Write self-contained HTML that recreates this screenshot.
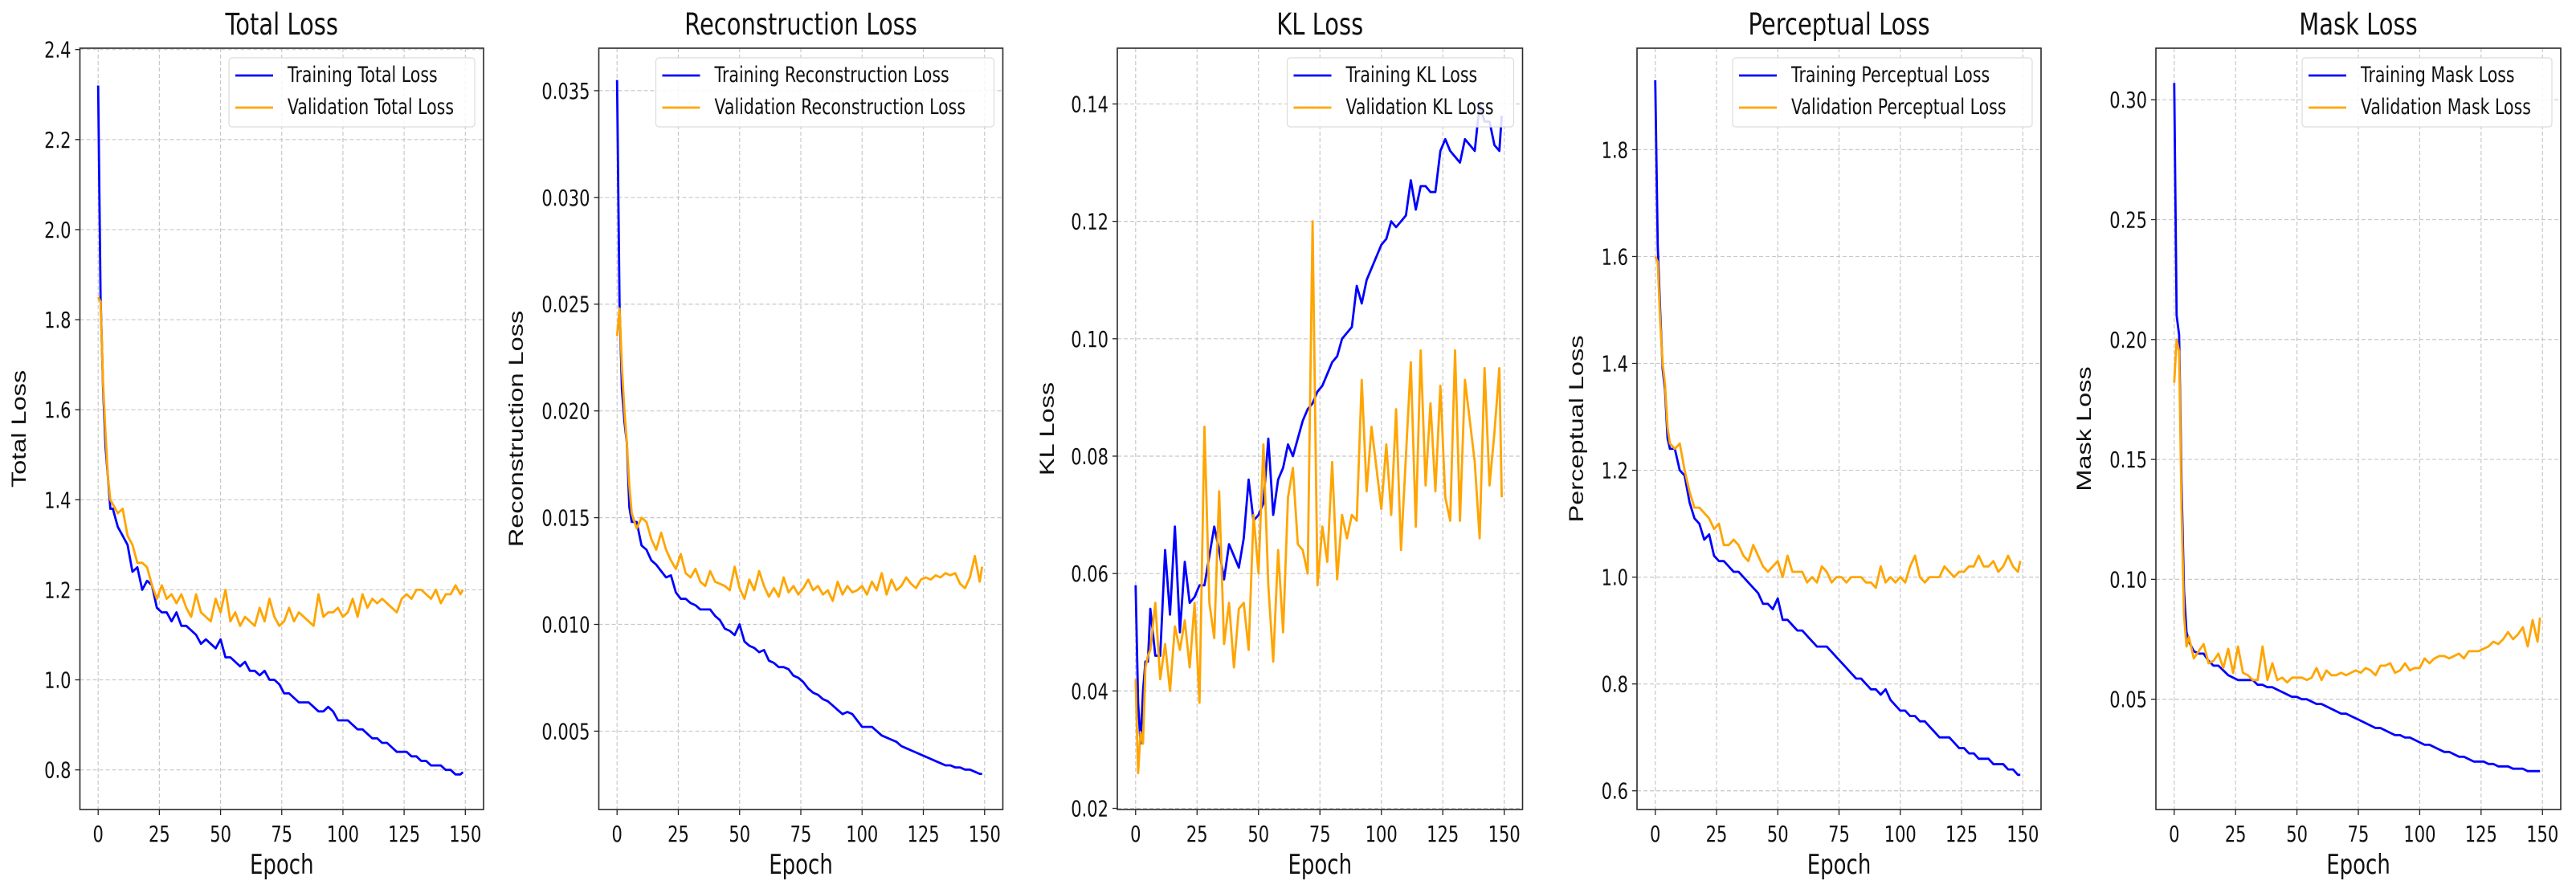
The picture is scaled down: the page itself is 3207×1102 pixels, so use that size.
<!DOCTYPE html>
<html><head><meta charset="utf-8"><style>
html,body{margin:0;padding:0;background:#fff;}
svg{display:block;}
text{font-family:"DejaVu Sans","Liberation Sans",sans-serif;fill:#111;}
</style></head><body>
<svg id="fig" width="3207" height="1102" viewBox="0 0 3207 1102" xmlns="http://www.w3.org/2000/svg"></svg>
<script>
const epochs=[0,1,2,3,4,5,6,8,10,12,14,16,18,20,22,24,26,28,30,32,34,36,38,40,42,44,46,48,50,52,54,56,58,60,62,64,66,68,70,72,74,76,78,80,82,84,86,88,90,92,94,96,98,100,102,104,106,108,110,112,114,116,118,120,122,124,126,128,130,132,134,136,138,140,142,144,146,148,149];
const xTicks=[0,25,50,75,100,125,150];

const totalTrain=[2.32,1.85,1.65,1.52,1.45,1.38,1.38,1.34,1.32,1.30,1.24,1.25,1.20,1.22,1.21,1.16,1.15,1.15,1.13,1.15,1.12,1.12,1.11,1.10,1.08,1.09,1.08,1.07,1.09,1.05,1.05,1.04,1.03,1.04,1.02,1.02,1.01,1.02,1.00,1.00,0.99,0.97,0.97,0.96,0.95,0.95,0.95,0.94,0.93,0.93,0.94,0.93,0.91,0.91,0.91,0.90,0.89,0.89,0.88,0.87,0.87,0.86,0.86,0.85,0.84,0.84,0.84,0.83,0.83,0.82,0.82,0.81,0.81,0.81,0.80,0.80,0.79,0.79,0.795];
const totalVal=[1.85,1.84,1.66,1.55,1.45,1.40,1.39,1.37,1.38,1.32,1.30,1.26,1.26,1.25,1.21,1.18,1.21,1.18,1.19,1.17,1.19,1.16,1.14,1.19,1.15,1.14,1.13,1.18,1.15,1.20,1.13,1.15,1.12,1.14,1.13,1.12,1.16,1.13,1.18,1.14,1.12,1.13,1.16,1.13,1.15,1.14,1.13,1.12,1.19,1.14,1.15,1.15,1.16,1.14,1.15,1.18,1.14,1.19,1.16,1.18,1.17,1.18,1.17,1.16,1.15,1.18,1.19,1.18,1.20,1.20,1.19,1.18,1.20,1.17,1.19,1.19,1.21,1.19,1.20];
const totalTicks=[0.8,1.0,1.2,1.4,1.6,1.8,2.0,2.2,2.4];

const reconTrain=[0.0355,0.025,0.021,0.0195,0.0185,0.0155,0.0148,0.0148,0.0137,0.0135,0.0130,0.0128,0.0125,0.0122,0.0123,0.0115,0.0112,0.0112,0.0110,0.0109,0.0107,0.0107,0.0107,0.0104,0.0102,0.0098,0.0097,0.0095,0.0100,0.0092,0.0090,0.0089,0.0087,0.0088,0.0083,0.0082,0.0080,0.0080,0.0079,0.0076,0.0075,0.0073,0.0070,0.0068,0.0067,0.0065,0.0064,0.0062,0.0060,0.0058,0.0059,0.0058,0.0055,0.0052,0.0052,0.0052,0.0050,0.0048,0.0047,0.0046,0.0045,0.0043,0.0042,0.0041,0.0040,0.0039,0.0038,0.0037,0.0036,0.0035,0.0034,0.0034,0.0033,0.0033,0.0032,0.0032,0.0031,0.0030,0.0030];
const reconVal=[0.0235,0.0248,0.022,0.020,0.0185,0.0165,0.0152,0.0145,0.0150,0.0148,0.0140,0.0135,0.0143,0.0135,0.0130,0.0126,0.0133,0.0124,0.0122,0.0126,0.0120,0.0118,0.0125,0.0120,0.0119,0.0118,0.0116,0.0127,0.0117,0.0112,0.0121,0.0116,0.0125,0.0118,0.0113,0.0117,0.0113,0.0122,0.0115,0.0118,0.0114,0.0117,0.0121,0.0116,0.0118,0.0114,0.0116,0.0111,0.0120,0.0114,0.0118,0.0115,0.0116,0.0118,0.0114,0.0120,0.0116,0.0124,0.0114,0.0121,0.0116,0.0118,0.0122,0.0119,0.0117,0.0121,0.0122,0.0121,0.0123,0.0122,0.0124,0.0123,0.0124,0.0119,0.0117,0.0122,0.0132,0.0120,0.0127];
const reconTicks=[0.005,0.010,0.015,0.020,0.025,0.030,0.035];

const klTrain=[0.058,0.038,0.031,0.040,0.045,0.045,0.054,0.046,0.046,0.064,0.053,0.068,0.050,0.062,0.055,0.056,0.058,0.058,0.063,0.068,0.064,0.059,0.065,0.063,0.061,0.066,0.076,0.069,0.070,0.072,0.083,0.070,0.076,0.078,0.082,0.080,0.083,0.086,0.088,0.089,0.091,0.092,0.094,0.096,0.097,0.100,0.101,0.102,0.109,0.106,0.110,0.112,0.114,0.116,0.117,0.120,0.119,0.120,0.121,0.127,0.122,0.126,0.126,0.125,0.125,0.132,0.134,0.132,0.131,0.130,0.134,0.133,0.132,0.140,0.137,0.137,0.133,0.132,0.138];
const klVal=[0.042,0.026,0.033,0.031,0.044,0.046,0.047,0.055,0.042,0.048,0.040,0.051,0.047,0.052,0.044,0.055,0.038,0.085,0.055,0.049,0.074,0.048,0.055,0.044,0.054,0.055,0.047,0.070,0.060,0.082,0.058,0.045,0.064,0.050,0.073,0.078,0.065,0.064,0.060,0.120,0.058,0.068,0.062,0.079,0.059,0.070,0.066,0.070,0.069,0.093,0.074,0.085,0.078,0.071,0.082,0.070,0.088,0.064,0.080,0.096,0.068,0.098,0.075,0.089,0.074,0.092,0.073,0.069,0.098,0.069,0.093,0.086,0.079,0.066,0.095,0.075,0.084,0.095,0.073];
const klTicks=[0.02,0.04,0.06,0.08,0.10,0.12,0.14];

const percTrain=[1.93,1.62,1.50,1.39,1.35,1.26,1.24,1.24,1.20,1.19,1.14,1.11,1.10,1.07,1.08,1.04,1.03,1.03,1.02,1.01,1.01,1.00,0.99,0.98,0.97,0.95,0.95,0.94,0.96,0.92,0.92,0.91,0.90,0.90,0.89,0.88,0.87,0.87,0.87,0.86,0.85,0.84,0.83,0.82,0.81,0.81,0.80,0.79,0.79,0.78,0.79,0.77,0.76,0.75,0.75,0.74,0.74,0.73,0.73,0.72,0.71,0.70,0.70,0.70,0.69,0.68,0.68,0.67,0.67,0.66,0.66,0.66,0.65,0.65,0.65,0.64,0.64,0.63,0.63];
const percVal=[1.60,1.59,1.48,1.40,1.36,1.28,1.25,1.24,1.25,1.20,1.16,1.13,1.13,1.12,1.11,1.09,1.10,1.06,1.06,1.07,1.06,1.04,1.03,1.06,1.04,1.02,1.01,1.02,1.03,1.00,1.04,1.01,1.01,1.01,0.99,1.00,0.99,1.02,1.01,0.99,1.00,1.00,0.99,1.00,1.00,1.00,0.99,0.99,0.98,1.02,0.99,1.00,0.99,1.00,0.99,1.02,1.04,1.00,0.99,1.00,1.00,1.00,1.02,1.01,1.00,1.01,1.01,1.02,1.02,1.04,1.02,1.02,1.03,1.01,1.02,1.04,1.02,1.01,1.03];
const percTicks=[0.6,0.8,1.0,1.2,1.4,1.6,1.8];

const maskTrain=[0.307,0.210,0.202,0.140,0.095,0.078,0.074,0.070,0.069,0.069,0.066,0.064,0.064,0.062,0.060,0.059,0.058,0.058,0.058,0.058,0.056,0.056,0.055,0.055,0.054,0.053,0.052,0.051,0.051,0.050,0.050,0.049,0.048,0.048,0.047,0.046,0.045,0.044,0.044,0.043,0.042,0.041,0.040,0.039,0.038,0.038,0.037,0.036,0.035,0.035,0.034,0.034,0.033,0.032,0.031,0.031,0.030,0.029,0.028,0.028,0.027,0.026,0.026,0.025,0.024,0.024,0.024,0.023,0.023,0.022,0.022,0.022,0.021,0.021,0.021,0.020,0.020,0.020,0.020];
const maskVal=[0.182,0.200,0.195,0.130,0.085,0.072,0.076,0.067,0.070,0.073,0.065,0.066,0.069,0.063,0.071,0.061,0.072,0.061,0.060,0.058,0.058,0.072,0.058,0.065,0.058,0.059,0.057,0.059,0.059,0.059,0.058,0.059,0.063,0.058,0.062,0.060,0.060,0.061,0.060,0.061,0.062,0.061,0.063,0.062,0.060,0.064,0.064,0.065,0.061,0.062,0.065,0.062,0.063,0.063,0.067,0.065,0.067,0.068,0.068,0.067,0.068,0.069,0.067,0.070,0.070,0.070,0.071,0.072,0.074,0.073,0.075,0.078,0.075,0.077,0.080,0.072,0.083,0.074,0.084];
const maskTicks=[0.05,0.10,0.15,0.20,0.25,0.30];

const NS='http://www.w3.org/2000/svg';
const svg=document.getElementById('fig');
const SY=1.3;
function mk(tag,attrs,parent){const e=document.createElementNS(NS,tag);for(const k in attrs)e.setAttribute(k,attrs[k]);(parent||svg).appendChild(e);return e;}
function txt(parent,s,x,y,size,anchor,rot,family){
  const t=mk('text',{'font-size':size,'text-anchor':anchor,transform:'translate('+x+','+y+') scale(1,'+SY+')'+(rot?' rotate(-90)':'')},parent);
  if(family)t.setAttribute('style','font-family:'+family);
  t.textContent=s;return t;
}
const panels=[
 {key:'total',title:'Total Loss',ylabel:'Total Loss',train:totalTrain,val:totalVal,ticks:totalTicks,ymin:0.712,ymax:2.403,dec:1,L:99.5,R:602,ylx:32,lgW:306,tn:'Training Total Loss',vn:'Validation Total Loss'},
 {key:'recon',title:'Reconstruction Loss',ylabel:'Reconstruction Loss',train:reconTrain,val:reconVal,ticks:reconTicks,ymin:0.00133,ymax:0.03699,dec:3,L:745.5,R:1248.5,ylx:651,lgW:421,tn:'Training Reconstruction Loss',vn:'Validation Reconstruction Loss'},
 {key:'kl',title:'KL Loss',ylabel:'KL Loss',train:klTrain,val:klVal,ticks:klTicks,ymin:0.0198,ymax:0.1495,dec:2,L:1391,R:1895.5,ylx:1312,lgW:282,tn:'Training KL Loss',vn:'Validation KL Loss'},
 {key:'perceptual',title:'Perceptual Loss',ylabel:'Perceptual Loss',train:percTrain,val:percVal,ticks:percTicks,ymin:0.565,ymax:1.99,dec:1,L:2038,R:2541,ylx:1971,lgW:373,tn:'Training Perceptual Loss',vn:'Validation Perceptual Loss'},
 {key:'mask',title:'Mask Loss',ylabel:'Mask Loss',train:maskTrain,val:maskVal,ticks:maskTicks,ymin:0.004,ymax:0.3215,dec:2,L:2684,R:3188,ylx:2603,lgW:311,tn:'Training Mask Loss',vn:'Validation Mask Loss'}
];
const T=60,B=1008;
panels.forEach(p=>{
  const g=mk('g',{});
  
  
  const xs=v=>p.L+(v+7.45)/164.9*(p.R-p.L);
  const ys=v=>B-(v-p.ymin)/(p.ymax-p.ymin)*(B-T);
  const grid=mk('g',{stroke:'#c8c8c8','stroke-width':1.2,'stroke-dasharray':'5,3'},g);
  
  
  xTicks.forEach(v=>{mk('line',{x1:xs(v),x2:xs(v),y1:T,y2:B},grid);});
  p.ticks.forEach(v=>{mk('line',{x1:p.L,x2:p.R,y1:ys(v),y2:ys(v)},grid);});
  xTicks.forEach(v=>{
    mk('line',{x1:xs(v),x2:xs(v),y1:B,y2:B+7,stroke:'#222','stroke-width':1.3},g);
    const t=txt(g,String(v),xs(v),1048,21,'middle');
    
    
  });
  p.ticks.forEach(v=>{
    mk('line',{x1:p.L-6,x2:p.L,y1:ys(v),y2:ys(v),stroke:'#222','stroke-width':1.3},g);
    const t=txt(g,v.toFixed(p.dec),p.L-11,ys(v)+10,21,'end');
    
    
  });
  const clip=mk('clipPath',{id:'clip-'+p.key},g);
  mk('rect',{x:p.L,y:T,width:p.R-p.L,height:B-T},clip);
  const mkLine=(arr,color,name)=>{
    const d=arr.map((v,i)=>(i?'L':'M')+xs(epochs[i]).toFixed(1)+','+ys(v).toFixed(1)).join('');
    const l=mk('path',{d:d,fill:'none',stroke:color,'stroke-width':2.8,'stroke-linejoin':'round','clip-path':'url(#clip-'+p.key+')'},g);
    
    
  };
  mkLine(p.train,'#0000ff',p.key+'-training-line');
  mkLine(p.val,'#ffa500',p.key+'-validation-line');
  const fr=mk('rect',{x:p.L,y:T,width:p.R-p.L,height:B-T,fill:'none',stroke:'#2a2a2a','stroke-width':1.6},g);
  
  
  const tt=txt(g,p.title,(p.L+p.R)/2,43,29,'middle');
  
  
  const xl=txt(g,'Epoch',(p.L+p.R)/2,1088,26,'middle');
  
  
  const yl=txt(g,p.ylabel,p.ylx,(T+B)/2,25,'middle',true,'"Liberation Sans",sans-serif');
  
  
  const lx=p.R-11-p.lgW;
  const lg=mk('g',{},g);
  
  
  mk('rect',{x:lx,y:72,width:p.lgW,height:86,rx:4,fill:'#fff','fill-opacity':0.85,stroke:'#dcdcdc','stroke-width':1.2},lg);
  mk('line',{x1:lx+8,x2:lx+55,y1:94,y2:94,stroke:'#0000ff','stroke-width':2.8},lg);
  mk('line',{x1:lx+8,x2:lx+55,y1:134,y2:134,stroke:'#ffa500','stroke-width':2.8},lg);
  const e1=txt(lg,p.tn,lx+73,102,20.5,'start');
  
  
  const e2=txt(lg,p.vn,lx+73,142,20.5,'start');
  
  
});
</script>
</body></html>
